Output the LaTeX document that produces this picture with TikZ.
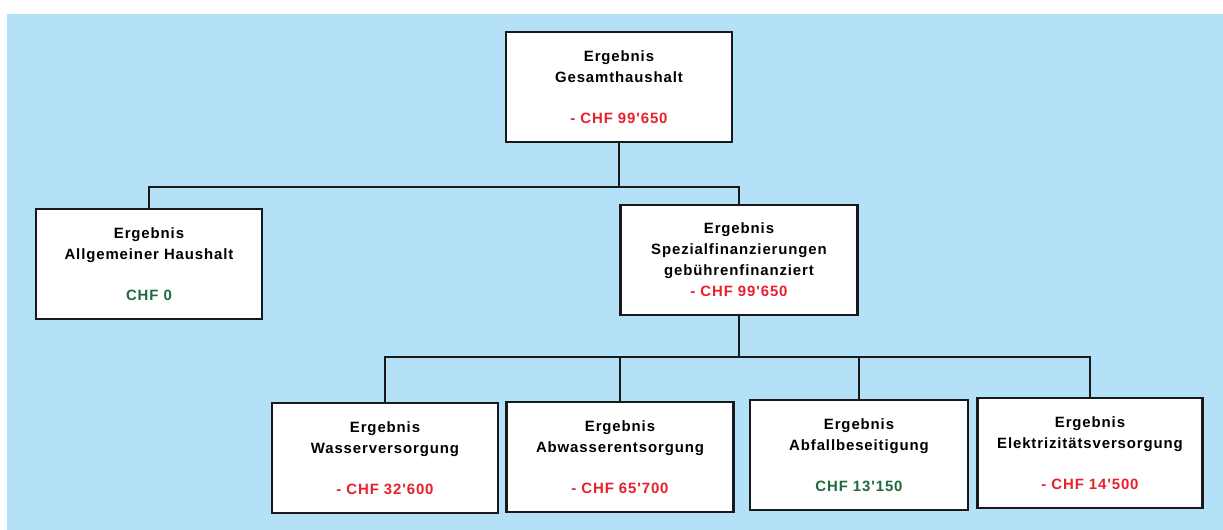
\documentclass[tikz,border=0pt]{standalone}
\usepackage{fontspec}
\setmainfont{Liberation Sans}[LetterSpace=6,Ligatures=TeXOff]
\usetikzlibrary{positioning}
\definecolor{SkyBg}{HTML}{B4E1F8}
\definecolor{MinusRed}{HTML}{E8202E}
\definecolor{PlusGreen}{HTML}{1F6B3D}

\begin{document}
\begin{tikzpicture}[x=0.02cm,y=-0.02cm,
  box/.style={draw=black!90,line width=1.6pt,fill=white,minimum width=4.52cm,minimum height=2.2cm,inner sep=0pt,align=center,font=\bfseries\fontsize{8.5}{12}\selectfont},
  link/.style={draw=black!90,line width=1.2pt}]
\useasboundingbox (0,0) rectangle (1223,530);
\fill[SkyBg] (7,14) rectangle (1223,530);
% obere Ebene
\node[box] (ges) at (619,87) {Ergebnis\\Gesamthaushalt\\[11pt]\textcolor{MinusRed}{- CHF 99'650}};
\node[box] (allg) at (149,264) {Ergebnis\\Allgemeiner Haushalt\\[11pt]\textcolor{PlusGreen}{CHF 0}};
\node[box,minimum width=4.74cm] (spez) at (739,260) {Ergebnis\\Spezialfinanzierungen\\geb\"uhrenfinanziert\\\textcolor{MinusRed}{- CHF 99'650}};
% Spezialfinanzierungen
\node[box] (wasser) at (385,458) {Ergebnis\\Wasserversorgung\\[11pt]\textcolor{MinusRed}{- CHF 32'600}};
\node[box,minimum width=4.54cm] (abw) at (620,457) {Ergebnis\\Abwasserentsorgung\\[11pt]\textcolor{MinusRed}{- CHF 65'700}};
\node[box,minimum width=4.36cm] (abf) at (859,455) {Ergebnis\\Abfallbeseitigung\\[11pt]\textcolor{PlusGreen}{CHF 13'150}};
\node[box,minimum width=4.5cm] (elek) at (1090,453) {Ergebnis\\Elektrizit\"atsversorgung\\[11pt]\textcolor{MinusRed}{- CHF 14'500}};
\draw[link] (ges.south) -- ++(0,44) coordinate (b1) -| (allg.north);
\draw[link] (b1) -| (spez.north);
\draw[link] (spez.south) -- ++(0,41) coordinate (b2) -| (wasser.north);
\foreach \n in {abw,abf,elek} \draw[link] (b2) -| (\n.north);
\end{tikzpicture}
\end{document}
